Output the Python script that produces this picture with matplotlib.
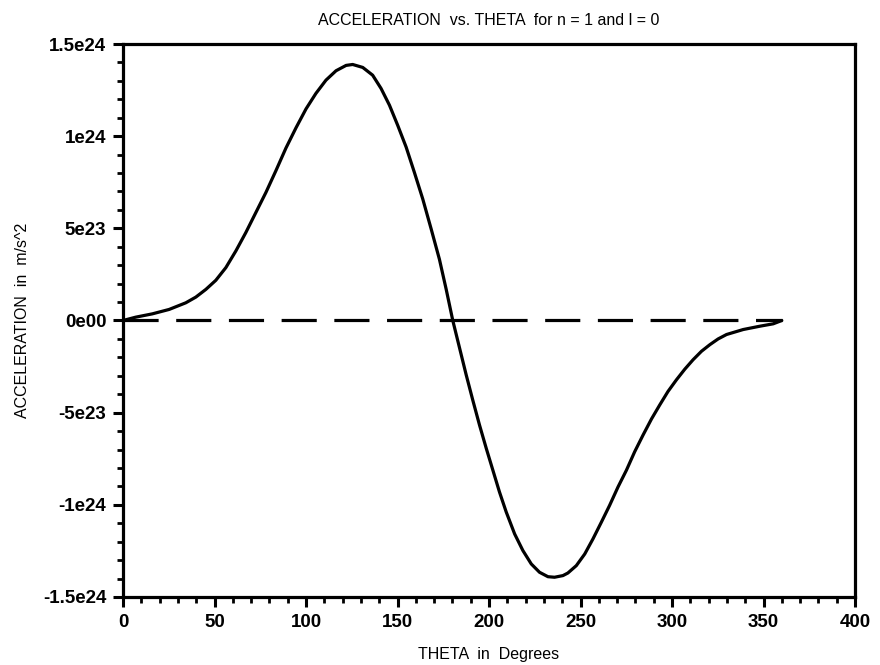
import matplotlib
matplotlib.use("Agg")
import matplotlib.pyplot as plt
from matplotlib.ticker import MultipleLocator, FixedLocator, FixedFormatter

# valores (theta em graus, aceleracao em 1e24 m/s^2)
theta = [0, 6.9, 16.0, 25.2, 34.3, 39.8, 45.3, 50.7, 56.2, 61.7, 67.1, 72.6,
         78.1, 83.6, 89.0, 94.5, 100.0, 105.4, 110.9, 116.4, 121.9, 125.5,
         131.0, 136.4, 141.0, 145.6, 150.1, 154.7, 159.2, 163.8, 168.4, 172.9,
         176.6, 180.2, 183.9, 187.5, 191.1, 194.8, 198.5, 202.1, 205.7, 209.4,
         214.0, 218.5, 223.1, 227.6, 232.2, 235.8, 240.4, 243.1, 247.7, 252.3,
         256.8, 261.4, 265.9, 270.5, 275.1, 279.6, 284.2, 288.8, 293.3, 297.8,
         302.4, 307.0, 311.5, 316.1, 320.7, 325.2, 329.8, 338.9, 348.0, 355.3,
         360.0]
acel = [0, 0.018, 0.036, 0.060, 0.096, 0.127, 0.169, 0.218, 0.287, 0.378,
        0.477, 0.586, 0.695, 0.814, 0.935, 1.045, 1.148, 1.232, 1.304, 1.355,
        1.384, 1.389, 1.373, 1.331, 1.259, 1.168, 1.059, 0.941, 0.804, 0.659,
        0.496, 0.332, 0.169, 0.0, -0.149, -0.294, -0.431, -0.567, -0.694,
        -0.812, -0.930, -1.039, -1.158, -1.248, -1.321, -1.366, -1.390, -1.393,
        -1.384, -1.370, -1.330, -1.267, -1.185, -1.094, -1.003, -0.903, -0.812,
        -0.712, -0.621, -0.534, -0.458, -0.385, -0.322, -0.264, -0.213, -0.167,
        -0.131, -0.100, -0.076, -0.049, -0.031, -0.018, 0]
escala = 1e24

y_ticks = [-1.5e24, -1e24, -5e23, 0, 5e23, 1e24, 1.5e24]
y_labels = ['-1.5e24', '-1e24', '-5e23', '0e00', '5e23', '1e24', '1.5e24']

plt.rcParams['font.family'] = ['Liberation Sans', 'DejaVu Sans']

fig = plt.figure(figsize=(8.8, 6.65), dpi=100)
ax = fig.add_axes([0.1398, 0.1023, 0.8318, 0.8315])

ax.plot(theta, [v * escala for v in acel], color='black', linewidth=2.3,
        solid_joinstyle='round', solid_capstyle='round')
ax.plot([0, 360], [0, 0], color='black', linewidth=2.3, dashes=(11, 5.5))

ax.set_xlim(0, 400)
ax.set_ylim(-1.5e24, 1.5e24)
ax.xaxis.set_major_locator(MultipleLocator(50))
ax.xaxis.set_minor_locator(MultipleLocator(10))
ax.yaxis.set_major_locator(FixedLocator(y_ticks))
ax.yaxis.set_major_formatter(FixedFormatter(y_labels))
ax.yaxis.set_minor_locator(MultipleLocator(1e23))
ax.yaxis.get_offset_text().set_visible(False)

for s in ax.spines.values():
    s.set_linewidth(2.3)

ax.tick_params(which='major', direction='out', length=7, width=2.2,
               labelsize=13.5, pad=5)
ax.tick_params(which='minor', direction='out', length=4, width=2.0)
for lab in ax.get_xticklabels() + ax.get_yticklabels():
    lab.set_fontweight('bold')

ax.set_title('ACCELERATION  vs. THETA  for n = 1 and l = 0', fontsize=11.5, pad=14)
ax.set_xlabel('THETA  in  Degrees', fontsize=11.5, labelpad=12)
ax.set_ylabel('ACCELERATION  in  m/s^2', fontsize=11.5, labelpad=9)

fig.savefig('out.png', dpi=100)
